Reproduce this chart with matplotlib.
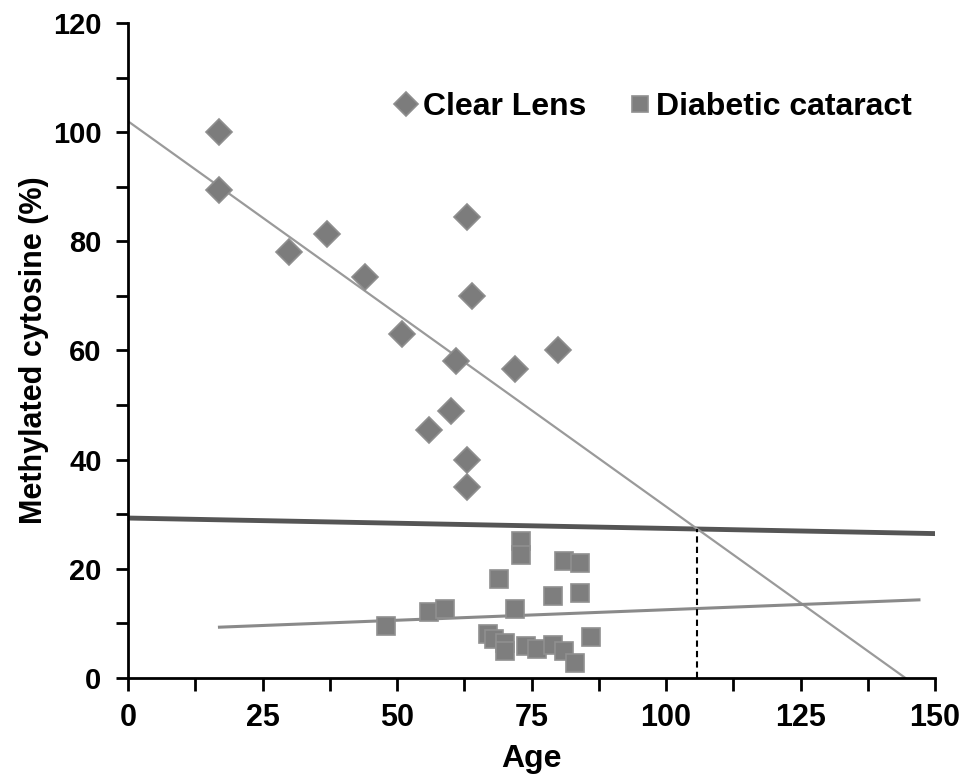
import matplotlib
matplotlib.use("Agg")
import matplotlib.pyplot as plt
import numpy as np
from matplotlib.ticker import MultipleLocator

plt.rcParams['font.family'] = ['Liberation Sans', 'DejaVu Sans']

# Clear lens data (age, methylated cytosine %)
clear_age = [17, 17, 30, 37, 44, 51, 61, 63, 64, 72, 80, 60, 56, 63, 63]
clear_meth = [100, 89.4, 78, 81.3, 73.5, 63, 58, 84.5, 70, 56.6, 60, 49, 45.5, 40, 35]

# Diabetic cataract data
diab_age = [48, 56, 59, 69, 73, 73, 72, 81, 84, 79, 84, 86, 67, 68, 70, 70, 74, 76, 79, 81, 83]
diab_meth = [9.5, 12.1, 12.6, 18.1, 25.1, 22.5, 12.6, 21.4, 21, 15, 15.6, 7.5, 8.1, 7.1, 6.4, 4.9, 5.9, 5.3, 6.0, 4.9, 2.7]

# Regression / reference line parameters (intercept, slope, x-range)
clear_fit = (102.0, -0.706)
clear_fit_range = (0, 144.5)
diab_fit = (8.65, 0.0385)
diab_fit_range = (17, 147)
thresh_fit = (29.3, -0.019)
thresh_range = (0, 150)

x_ticks = [0, 25, 50, 75, 100, 125, 150]
y_ticks = [0, 20, 40, 60, 80, 100, 120]

fig = plt.figure(figsize=(9.66, 7.79), dpi=100)
ax = fig.add_axes([0.1325, 0.1297, 0.8355, 0.8408])

# lines
xs = np.array(thresh_range, dtype=float)
ax.plot(xs, thresh_fit[0] + thresh_fit[1] * xs, color='#555555', lw=3.5, zorder=2, solid_capstyle='butt')
xs = np.array(clear_fit_range, dtype=float)
ax.plot(xs, clear_fit[0] + clear_fit[1] * xs, color='#9a9a9a', lw=1.6, zorder=2)
xs = np.array(diab_fit_range, dtype=float)
ax.plot(xs, diab_fit[0] + diab_fit[1] * xs, color='#8a8a8a', lw=2.2, zorder=2)

# dashed vertical at intersection of clear fit and threshold
xi = (clear_fit[0] - thresh_fit[0]) / (thresh_fit[1] - clear_fit[1])
yi = clear_fit[0] + clear_fit[1] * xi
ax.plot([xi, xi], [0, yi], color='black', lw=1.5, ls=(0, (3, 2)), zorder=2)

# markers
ax.plot(clear_age, clear_meth, ls='none', marker='D', markersize=13,
        markerfacecolor='#7c7c7c', markeredgecolor='#8e8e8e', markeredgewidth=1.2,
        zorder=3, label='Clear Lens')
ax.plot(diab_age, diab_meth, ls='none', marker='s', markersize=12.5,
        markerfacecolor='#7e7e7e', markeredgecolor='#909090', markeredgewidth=1.2,
        zorder=3, label='Diabetic cataract')

ax.set_xlim(0, 150)
ax.set_ylim(0, 120)
ax.set_xticks(x_ticks)
ax.set_yticks(y_ticks)
ax.xaxis.set_minor_locator(MultipleLocator(12.5))
ax.yaxis.set_minor_locator(MultipleLocator(10))

for s in ['top', 'right']:
    ax.spines[s].set_visible(False)
for s in ['left', 'bottom']:
    ax.spines[s].set_linewidth(2)
    ax.spines[s].set_color('black')

ax.tick_params(which='both', direction='out', length=9, width=2, color='black')
ax.tick_params(axis='x', which='major', labelsize=22, pad=9)
ax.tick_params(axis='y', which='major', labelsize=21, pad=10)
for lbl in ax.get_xticklabels() + ax.get_yticklabels():
    lbl.set_fontweight('bold')

ax.set_xlabel('Age', fontsize=23, fontweight='bold', labelpad=8)
ax.set_ylabel('Methylated cytosine (%)', fontsize=22, fontweight='bold', labelpad=3)

leg = ax.legend(loc='center', bbox_to_anchor=(0.652, 0.871), ncol=2, frameon=False,
                prop={'weight': 'bold', 'size': 23},
                handlelength=0.6, handletextpad=0.22, columnspacing=1.38, markerscale=0.95)

fig.savefig('out.png', dpi=100, facecolor='white')
